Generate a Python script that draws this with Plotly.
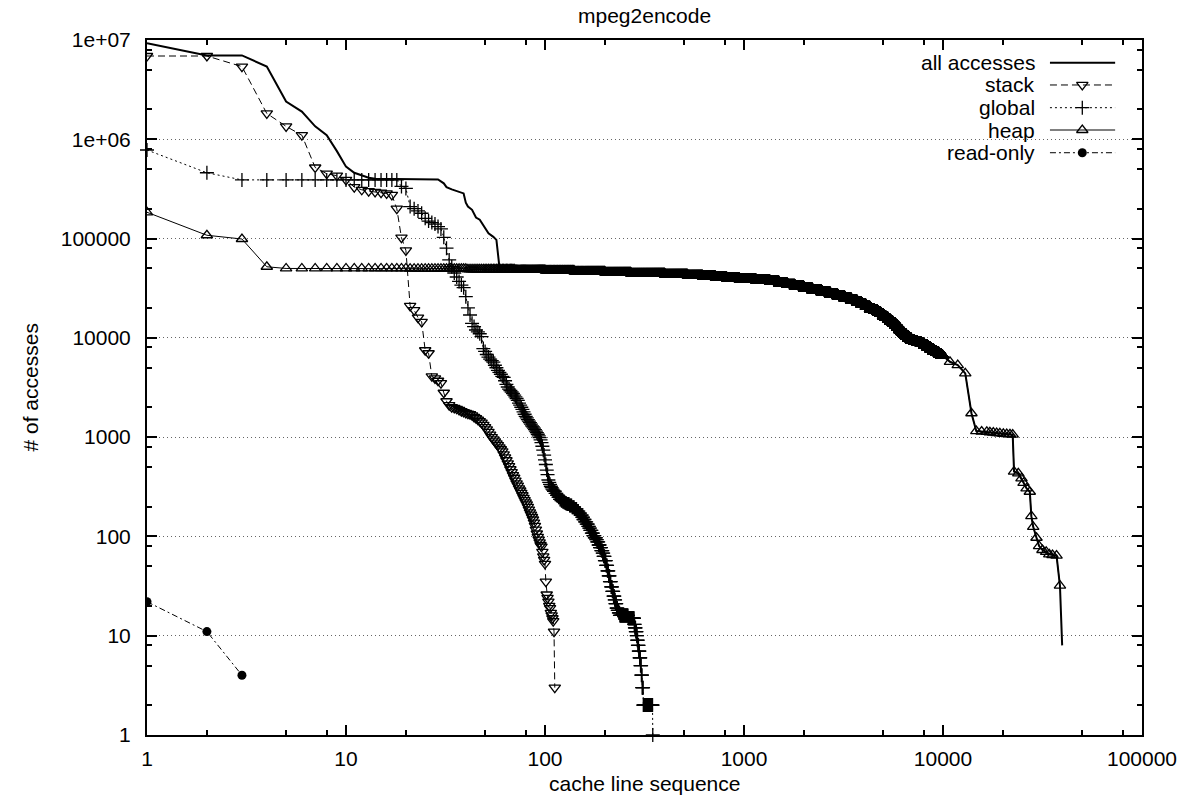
import numpy as np
import plotly.graph_objects as go

# ---------------------------------------------------------------------------
# Access counts per cache line, sorted in decreasing order (rank = position)
# ---------------------------------------------------------------------------

# all accesses: rank / access count along the combined curve
all_rank = [1, 2, 3, 4, 5, 6, 7, 8, 9, 10,
            11, 12, 13, 14, 29, 31, 32, 34, 37, 39, 40, 41, 43, 45,
            47, 50, 52, 55, 57, 59,
            100, 300, 600, 900, 1300, 2000, 3000, 4000, 5000, 6000,
            7000, 8000, 9000, 10000,
            10840, 11860, 12940, 13900, 14700,
            22400, 22750, 23900, 24800, 25400, 26300, 27300, 27800, 28400, 29500,
            30400, 31600, 33000, 34200, 35500, 37200, 38700, 39700]
all_count = [9.3e6, 7.0e6, 7.0e6, 5.4e6, 2.4e6, 1.9e6, 1.35e6, 1.1e6, 7.6e5, 5.3e5,
             4.6e5, 4.3e5, 4.1e5, 4.0e5, 3.94e5, 3.6e5, 3.3e5, 3.13e5, 2.98e5, 2.85e5, 2.3e5, 2.1e5, 1.95e5, 1.63e5,
             1.55e5, 1.27e5, 1.13e5, 1.04e5, 9.7e4, 5.2e4,
             48300, 44300, 42500, 39700, 38000, 32800, 26300, 21600, 17400, 12600,
             9500, 8700, 7350, 6600,
             5740, 5320, 4390, 1740, 1150,
             1060, 449, 431, 385, 347, 305, 282, 160, 125, 97,
             80, 73, 70, 66, 65, 64, 32, 8]

# stack: one value per stack cache line (ranks 1..112)
stack_count = [6.9e6, 6.9e6, 5.4e6, 1.82e6, 1.35e6, 1.1e6, 5.2e5, 4.5e5, 4.3e5, 3.9e5,
               3.3e5, 3.1e5, 3.0e5, 2.95e5, 2.9e5, 2.85e5, 2.75e5, 2.0e5, 1.02e5, 7.6e4,
               2.1e4, 1.9e4, 1.6e4, 1.45e4, 7500, 7000, 4100, 3900, 3700, 3500,
               2800, 2300, 2100, 2000, 1970, 1930, 1880, 1830, 1790, 1750,
               1720, 1700, 1660, 1600, 1550, 1500, 1450, 1400, 1330, 1260,
               1200, 1130, 1060, 1000, 950, 905, 865, 830, 790, 755,
               720, 670, 625, 585, 545, 510, 475, 445, 415, 390,
               365, 343, 325, 305, 290, 275, 260, 245, 232, 220,
               210, 198, 186, 175, 166, 157, 148, 138, 128, 117,
               107, 99, 93, 87, 82, 79, 70, 63, 58, 53,
               35, 26, 24, 22, 20, 19, 17, 16, 15, 14,
               11, 3]

# global: access count and number of consecutive lines sharing it
global_count = [780000, 460000, 390000, 335000, 320000, 210000, 200000, 190000, 180000, 160000,
                150000, 145000, 140000, 132000, 125000, 103000, 80000, 61000, 52000, 45000,
                41000, 37000, 34000, 32000, 26000, 20000, 17000, 14000, 13000, 12000,
                11500, 11000, 10300, 7800, 7300, 6800, 6400, 6100, 5900, 5700,
                5300, 5000, 4700, 4500, 4300, 4100, 4000, 3700, 3400, 3200,
                3050, 2950, 2850, 2750, 2650, 2550, 2450, 2350, 2200, 2100,
                2000, 1900, 1800, 1700, 1620, 1560, 1500, 1450, 1400, 1350,
                1300, 1270, 1230, 1190, 1150, 1110, 1070, 1030, 990, 940,
                880, 810, 740, 660, 590, 530, 466, 420, 370, 350,
                335, 320, 310, 300, 293,
                285, 272, 260, 248, 236, 229, 224, 220, 216,
                212, 205, 197, 189, 180, 172, 164, 156,
                148, 140, 133, 126, 121, 115, 108, 102, 97, 93,
                88, 82, 77, 72, 68, 63, 57, 51, 45, 40,
                35, 31, 28, 25, 23, 21, 19, 18, 17, 16, 15,
                13, 12, 11, 10, 9, 8, 7, 6, 5, 4, 3, 2, 1]
global_run = ([1, 1, 16] + [1] * 92
              + [2] * 9
              + [4, 4, 4, 4, 3, 3, 3, 2]
              + [3, 3, 3, 2, 2, 3, 3, 3, 3, 2]
              + [3, 3, 3, 3, 2, 3, 3, 3, 3, 3]
              + [3, 3, 3, 3, 2, 3, 3, 3, 3, 24, 19]
              + [2, 3, 3, 2, 2, 3, 3, 3, 3, 3, 4, 36, 1])

# heap, ranks 1..10000: access count and number of consecutive lines sharing it
heap_count = [184000, 108000, 99000, 52000, 50000, 49700, 49000, 48300, 47500, 46500,
              45500, 44300, 43300, 42500, 41600, 40600, 39700, 38800, 38000, 36800,
              35500, 34200, 32800, 31600, 30200, 28900, 27600, 26300, 25000, 23800,
              22700, 21600, 20500, 19500, 18800, 18200, 17400, 16600, 15900, 15200,
              14600, 14000, 13300, 12600, 12000, 11400, 10900, 10400, 9900, 9500,
              9200, 9000, 8700, 8400, 8050, 7700, 7350, 7050, 6800, 6600]
heap_run = [1, 1, 1, 1, 16, 20, 30, 30, 40, 60,
            70, 130, 120, 100, 100, 100, 130, 200, 200, 150,
            150, 150, 200, 200, 250, 250, 250, 250, 250, 250,
            200, 200, 200, 200, 200, 150, 150, 150, 150, 150,
            150, 150, 150, 150, 150, 150, 150, 200, 200, 250,
            300, 300, 300, 300, 300, 300, 300, 300, 300, 150]

# heap beyond rank 10000: one point per distinct access count
heap_tail_rank = [10840, 11860, 12940, 13900, 14700,
                  15640, 16600, 17200, 17900, 18600, 19300, 20100, 20900, 21700, 22400,
                  22750, 23900, 24800, 25400, 26300, 27300, 27800, 28400, 29500,
                  30400, 31600, 33000, 34200, 35500, 37200, 38700]
heap_tail_count = [5740, 5320, 4390, 1740, 1150,
                   1140, 1130, 1120, 1110, 1100, 1090, 1080, 1075, 1070, 1060,
                   449, 431, 385, 347, 305, 282, 160, 125, 97,
                   80, 73, 70, 66, 65, 64, 32]

# read-only
ro_rank = [1, 2, 3]
ro_count = [22, 11, 4]

series_names = ["all accesses", "stack", "global", "heap", "read-only"]

# axis ticks
x_major = [1, 10, 100, 1000, 10000, 100000]
x_major_text = ["1", "10", "100", "1000", "10000", "100000"]
y_major = [1, 10, 100, 1000, 10000, 100000, 1e6, 1e7]
y_major_text = ["1", "10", "100", "1000", "10000", "100000", "1e+06", "1e+07"]
minor_mult = [2, 5, 8]

# ---------------------------------------------------------------------------
stack_rank = np.arange(1, len(stack_count) + 1)

global_y = np.repeat(global_count, global_run)
global_x = np.arange(1, len(global_y) + 1)

heap_dense = np.repeat(heap_count, heap_run)
heap_x = np.concatenate([np.arange(1, len(heap_dense) + 1), heap_tail_rank])
heap_y = np.concatenate([heap_dense, heap_tail_count])

FONT = "Liberation Sans, Arial, Helvetica, sans-serif"
INK = "black"
MW = 1.3  # outline width of the open point symbols

styles = {
    "all accesses": dict(line=dict(color=INK, width=2), mode="lines", marker=None),
    "stack": dict(line=dict(color=INK, width=1, dash="7px,4px"), mode="lines+markers",
                  marker=dict(symbol="triangle-down-open", size=10, color=INK, line=dict(width=MW, color=INK))),
    "global": dict(line=dict(color=INK, width=1, dash="2px,3px"), mode="lines+markers",
                   marker=dict(symbol="cross-thin-open", size=10, color=INK, line=dict(width=MW, color=INK))),
    "heap": dict(line=dict(color=INK, width=1), mode="lines+markers",
                 marker=dict(symbol="triangle-up-open", size=10, color=INK, line=dict(width=MW, color=INK))),
    "read-only": dict(line=dict(color=INK, width=1, dash="6px,3px,2px,3px"), mode="lines+markers",
                      marker=dict(symbol="circle", size=9, color=INK, line=dict(width=0))),
}

data_xy = {
    "all accesses": (all_rank, all_count),
    "stack": (stack_rank, stack_count),
    "global": (global_x, global_y),
    "heap": (heap_x, heap_y),
    "read-only": (ro_rank, ro_count),
}

fig = go.Figure()
for name in series_names:
    st = styles[name]
    x, y = data_xy[name]
    kw = dict(x=x, y=y, name=name, mode=st["mode"], line=st["line"],
              showlegend=False, cliponaxis=False if name == "global" else True)
    if st["marker"] is not None:
        kw["marker"] = st["marker"]
    fig.add_trace(go.Scatter(**kw))

# ---------------------------------------------------------------------------
# key (text on the left, line sample on the right), drawn on an overlay axis
key_rows = [0.9674, 0.9353, 0.9026, 0.8705, 0.8378]
key_x0, key_x1, key_xm, key_text_x = 0.9075, 0.973, 0.940, 0.894
annotations = []
for name, yr in zip(series_names, key_rows):
    st = styles[name]
    fig.add_trace(go.Scatter(x=[key_x0, key_x1], y=[yr, yr], xaxis="x2", yaxis="y2",
                             mode="lines", line=st["line"], showlegend=False, hoverinfo="skip"))
    if st["marker"] is not None:
        fig.add_trace(go.Scatter(x=[key_xm], y=[yr], xaxis="x2", yaxis="y2",
                                 mode="markers", marker=st["marker"], showlegend=False, hoverinfo="skip"))
    annotations.append(dict(text=name, x=key_text_x, y=yr, xref="paper", yref="paper",
                            xanchor="right", yanchor="middle", showarrow=False,
                            font=dict(size=21, family=FONT, color=INK)))

# title and axis titles
annotations.append(dict(text="mpeg2encode", x=0.5, y=(735 - 16) / 695, xref="paper", yref="paper",
                        xanchor="center", yanchor="middle", showarrow=False,
                        font=dict(size=21, family=FONT, color=INK)))
annotations.append(dict(text="cache line sequence", x=0.5, y=(735 - 783) / 695, xref="paper", yref="paper",
                        xanchor="center", yanchor="middle", showarrow=False,
                        font=dict(size=21, family=FONT, color=INK)))
annotations.append(dict(text="# of accesses", x=(30 - 147) / 995, y=0.5, xref="paper", yref="paper",
                        xanchor="center", yanchor="middle", textangle=-90, showarrow=False,
                        font=dict(size=21, family=FONT, color=INK)))

x_minor = [m * 10 ** k for k in range(0, 5) for m in minor_mult]
y_minor = [m * 10 ** k for k in range(0, 7) for m in minor_mult]

axis_common = dict(type="log", showline=True, linecolor=INK, linewidth=2, mirror="allticks",
                   ticks="inside", ticklen=10, tickwidth=1.5, tickcolor=INK,
                   zeroline=False, tickfont=dict(size=21, family=FONT, color=INK))

fig.update_layout(
    width=1193, height=796, autosize=False,
    margin=dict(l=147, r=51, t=40, b=61),
    paper_bgcolor="white", plot_bgcolor="white",
    font=dict(family=FONT, size=21, color=INK),
    showlegend=False,
    xaxis=dict(range=[0, 5], tickmode="array", tickvals=x_major, ticktext=x_major_text,
               showgrid=False, ticklabelstandoff=4,
               minor=dict(tickmode="array", tickvals=x_minor, ticks="inside", ticklen=5,
                          tickwidth=1.5, tickcolor=INK, showgrid=False),
               **axis_common),
    yaxis=dict(range=[0, 7], tickmode="array", tickvals=y_major, ticktext=y_major_text,
               showgrid=True, gridcolor="#666666", gridwidth=1, griddash="1px,3px",
               ticklabelstandoff=10,
               minor=dict(tickmode="array", tickvals=y_minor, ticks="inside", ticklen=5,
                          tickwidth=1.5, tickcolor=INK, showgrid=False),
               **axis_common),
    xaxis2=dict(overlaying="x", anchor="y2", range=[0, 1], visible=False, fixedrange=True),
    yaxis2=dict(overlaying="y", anchor="x2", range=[0, 1], visible=False, fixedrange=True),
    annotations=annotations,
    shapes=[dict(type="rect", xref="paper", yref="paper",
                 x0=(873 - 147) / 995, x1=(1128 - 147) / 995,
                 y0=(735 - 165) / 695, y1=(735 - 50) / 695,
                 fillcolor="white", line=dict(width=0), layer="between")],
)

fig.write_html("out.html")
